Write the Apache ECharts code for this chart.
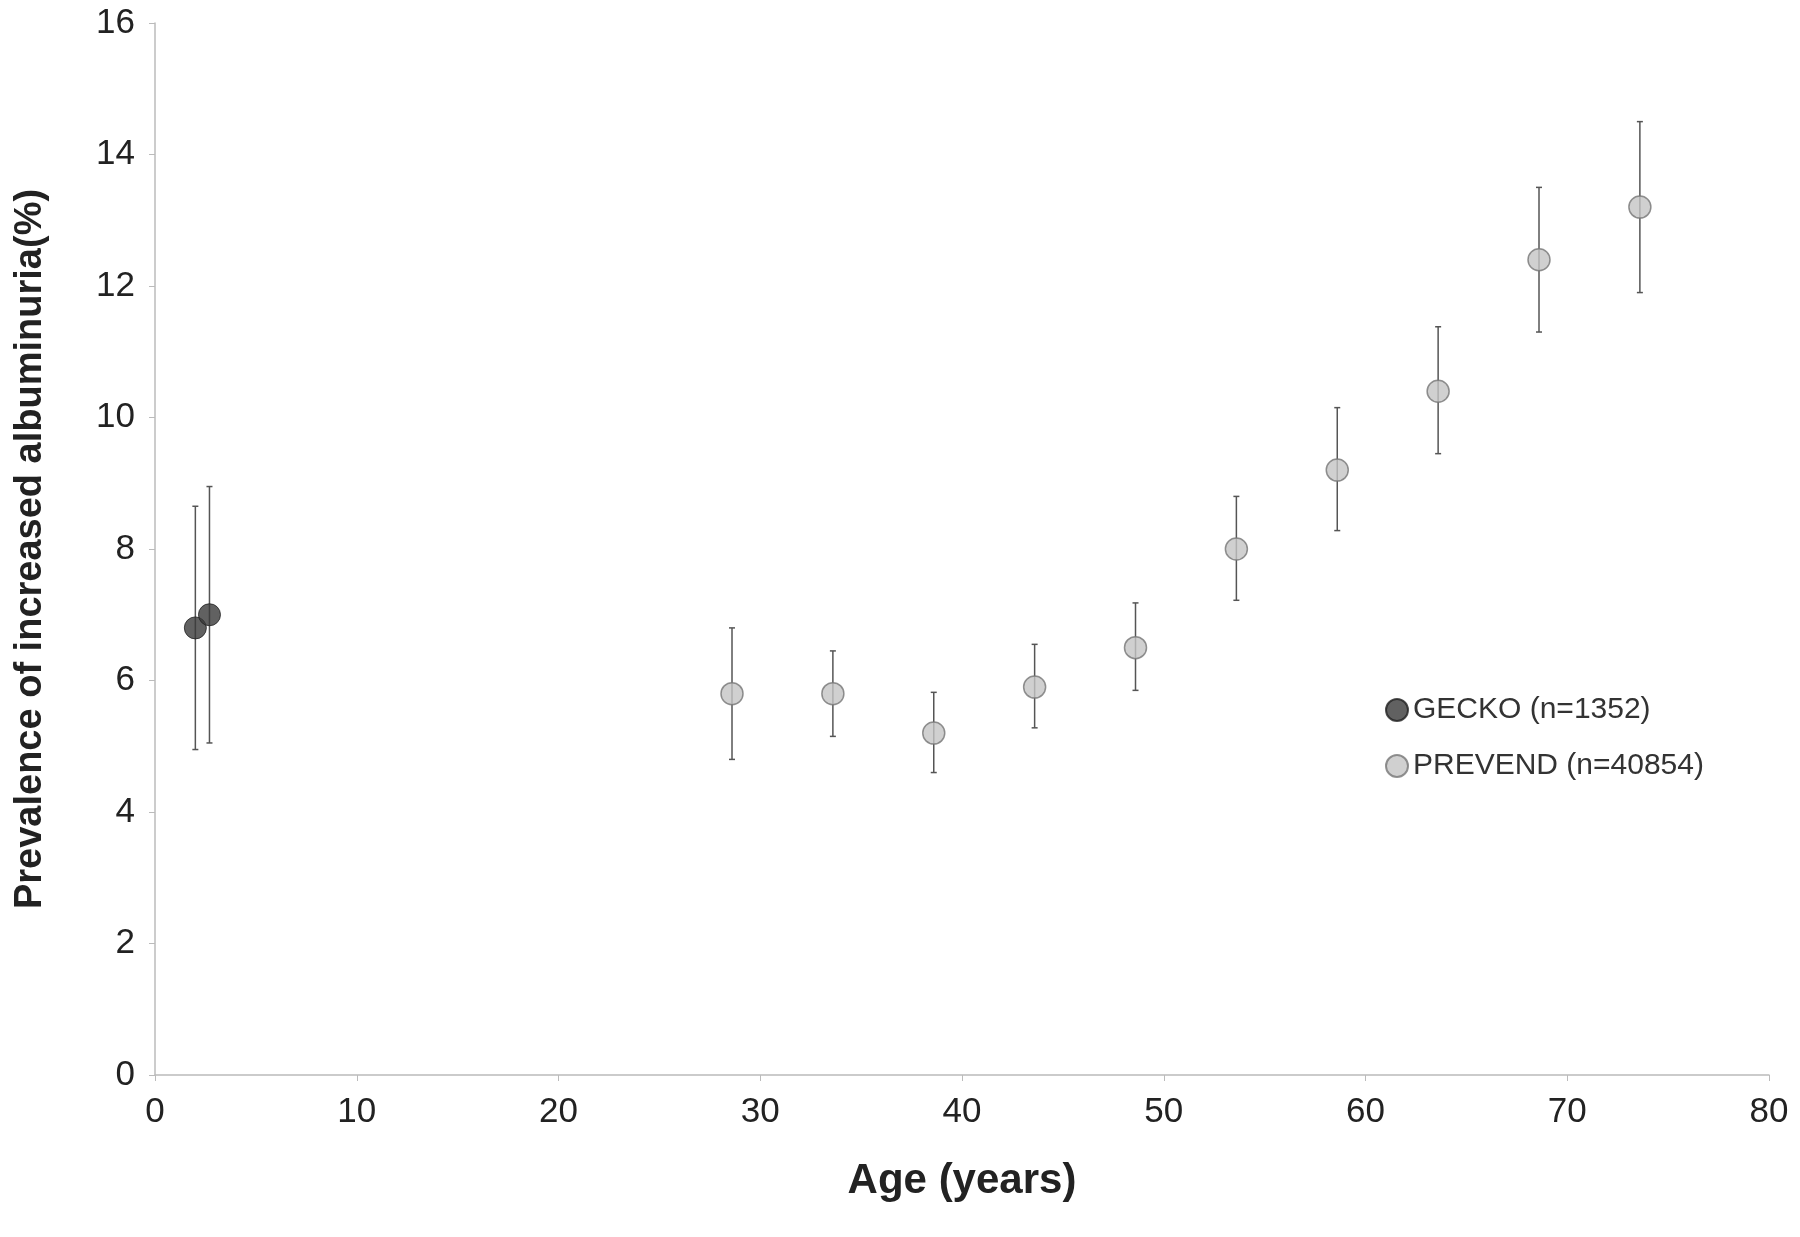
<!DOCTYPE html>
<html><head><meta charset="utf-8">
<script src="https://cdn.jsdelivr.net/npm/echarts@6/dist/echarts.min.js"></script>
<style>html,body{margin:0;padding:0;background:#fff}#c{width:1800px;height:1237px}</style>
</head><body><div id="c"></div>
<script>
const geckoAge=[2.0,2.7];
const geckoVal=[6.8,7.0];
const geckoLow=[4.95,5.05];
const geckoHigh=[8.65,8.95];
const prevAge=[28.6,33.6,38.6,43.6,48.6,53.6,58.6,63.6,68.6,73.6];
const prevVal=[5.8,5.8,5.2,5.9,6.5,8.0,9.2,10.4,12.4,13.2];
const prevLow=[4.8,5.15,4.6,5.28,5.85,7.22,8.28,9.45,11.3,11.9];
const prevHigh=[6.8,6.45,5.82,6.55,7.18,8.8,10.15,11.38,13.5,14.5];
const F='"Liberation Sans", Arial, sans-serif';
function errData(a,l,h){return a.map((x,i)=>[x,l[i],h[i]]);}
function errSeries(d){return {type:'custom',silent:true,data:d,z:1,
 renderItem:(p,api)=>{const lo=api.coord([api.value(0),api.value(1)]),hi=api.coord([api.value(0),api.value(2)]);
 const w=3,s={stroke:'#555',lineWidth:1.5};
 return {type:'group',children:[
  {type:'line',shape:{x1:lo[0],y1:lo[1],x2:hi[0],y2:hi[1]},style:s},
  {type:'line',shape:{x1:lo[0]-w,y1:lo[1],x2:lo[0]+w,y2:lo[1]},style:s},
  {type:'line',shape:{x1:hi[0]-w,y1:hi[1],x2:hi[0]+w,y2:hi[1]},style:s}]};}};}
const ch=echarts.init(document.getElementById('c'));
ch.setOption({animation:false,
 grid:{left:155,right:31,top:23,bottom:162},
 legend:{left:1380,top:690,orient:'vertical',itemGap:26,itemWidth:22,itemHeight:22,
  textStyle:{fontFamily:F,fontSize:30,color:'#333'},
  data:[{name:'GECKO (n=1352)',icon:'circle'},{name:'PREVEND (n=40854)',icon:'circle'}]},
 xAxis:{type:'value',min:0,max:80,interval:10,
  name:'Age (years)',nameLocation:'middle',nameGap:85,
  nameTextStyle:{fontFamily:F,fontSize:42,fontWeight:'bold',color:'#222'},
  axisLine:{lineStyle:{color:'#bbb',width:1.5}},axisTick:{show:true,length:6,lineStyle:{color:'#bbb'}},
  axisLabel:{fontFamily:F,fontSize:35,color:'#222',margin:20},splitLine:{show:false}},
 yAxis:{type:'value',min:0,max:16,interval:2,
  name:'Prevalence of increased albuminuria(%)',nameLocation:'middle',nameGap:105,
  nameTextStyle:{fontFamily:F,fontSize:38,fontWeight:'bold',color:'#222'},
  axisLine:{show:true,lineStyle:{color:'#bbb',width:1.5}},axisTick:{show:true,length:6,lineStyle:{color:'#bbb'}},
  axisLabel:{fontFamily:F,fontSize:35,color:'#222',margin:20},splitLine:{show:false}},
 series:[
  errSeries(errData(geckoAge,geckoLow,geckoHigh)),
  errSeries(errData(prevAge,prevLow,prevHigh)),
  {name:'GECKO (n=1352)',type:'scatter',z:3,symbolSize:22,
   itemStyle:{color:'#3a3a3a',borderColor:'#222',borderWidth:1},
   data:geckoAge.map((x,i)=>[x,geckoVal[i]])},
  {name:'PREVEND (n=40854)',type:'scatter',z:3,symbolSize:22,
   itemStyle:{color:'#c4c4c4',borderColor:'#777',borderWidth:1.5},
   data:prevAge.map((x,i)=>[x,prevVal[i]])}
 ]});
</script></body></html>
